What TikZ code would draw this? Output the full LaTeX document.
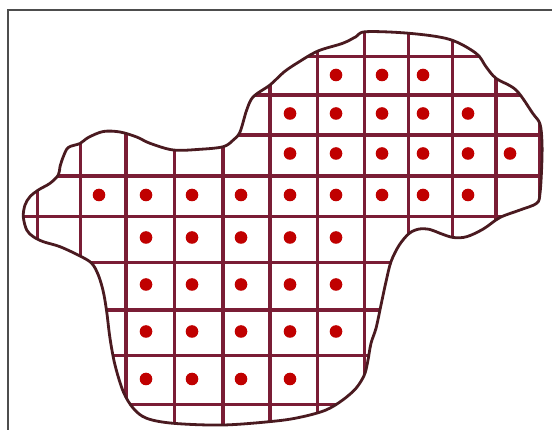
\documentclass[tikz,border=0pt]{standalone}
\usepackage{xcolor}
\usepackage{tikz}
\definecolor{gridmaroon}{HTML}{7A1D35}
\definecolor{outlinebrown}{HTML}{4A1A20}
\definecolor{dotred}{HTML}{C00000}
\definecolor{framegray}{HTML}{4D4D4D}
\newcommand{\regionoutline}{plot[smooth cycle, tension=0.55] coordinates {
    (25,205) (30,196.7) (38.3,190) (50,183.3) (58.3,175) (60,166.7) (63.3,156.7)
    (68.3,147.5) (80,143.5) (88.3,137.5) (103.3,131.5) (120,132) (136.7,137)
    (150,143.3) (173.3,150) (200,149.3) (223.3,146.7) (233.3,140) (240,132)
    (246.7,110) (253.3,96.7) (270,85) (284,72) (298,62.5) (318,51) (342.7,43.3)
    (356,36.7) (366,31.7) (409.3,33.3) (449.3,39.3) (476,53.3) (486,66.7)
    (496,78.3) (516,90) (532.7,113.3) (540,124) (542,143) (541.7,166.7)
    (540,193.3) (536.7,203.3) (520,210) (500,217.5) (483.3,229) (466.7,236.7)
    (453.3,237.5) (440,233.3) (430,229.5) (419.3,229) (409.3,233.3) (399.3,245)
    (391,261.7) (386,281.7) (381,305) (376,328.3) (371,343.3) (367.7,361.7)
    (364.3,375) (356,388.3) (342.7,400) (326,410) (302.7,416.7) (276,421)
    (223.3,425) (173.3,423.3) (146.7,418.3) (133.3,408.3) (123.3,391.7)
    (115,365) (110,338.3) (106.7,311.7) (103.3,291.7) (98.3,275) (91.7,263.3)
    (80,256) (60,246.7) (43.3,241.7) (33.3,236.7) (26.7,230) (23.3,216.7)}}

\begin{document}
\begin{tikzpicture}[x=1pt, y=-1pt]
    \useasboundingbox (0,0) rectangle (552,430);
    \fill[white] (0,0) rectangle (552,430);
    \draw[framegray, line width=2pt] (8,430) -- (8,10) -- (552,10);

    \begin{scope}
        \clip \regionoutline;
        \foreach \gx in {37.7, 80.7, 126, 174.3, 223, 270, 317.7, 364.7, 408.3, 452.7, 496, 539.3}
            \draw[gridmaroon, line width=3.3pt] (\gx,0) -- (\gx,430);
        \foreach \gy/\gstart in {56.7/0, 95/0, 135/230, 176/0, 216.5/0, 262.7/0, 310/0, 355.5/0, 404.5/0}
            \draw[gridmaroon, line width=3.3pt] (\gstart,\gy) -- (552,\gy);
    \end{scope}

    \draw[outlinebrown, line width=2.8pt] \regionoutline;

    \foreach \dy/\dxs in {75/{336,382,423},
                          113.5/{290,336,382,423,468},
                          153.5/{290,336,382,423,468,510},
                          195/{99,146,192,241,290,336,382,423,468},
                          237.5/{146,192,241,290,336},
                          284.5/{146,192,241,290,336},
                          331.5/{146,192,241,290,336},
                          379/{146,192,241,290}}
        \foreach \dx in \dxs
            \fill[dotred] (\dx,\dy) circle[radius=6.3];
\end{tikzpicture}
\end{document}
